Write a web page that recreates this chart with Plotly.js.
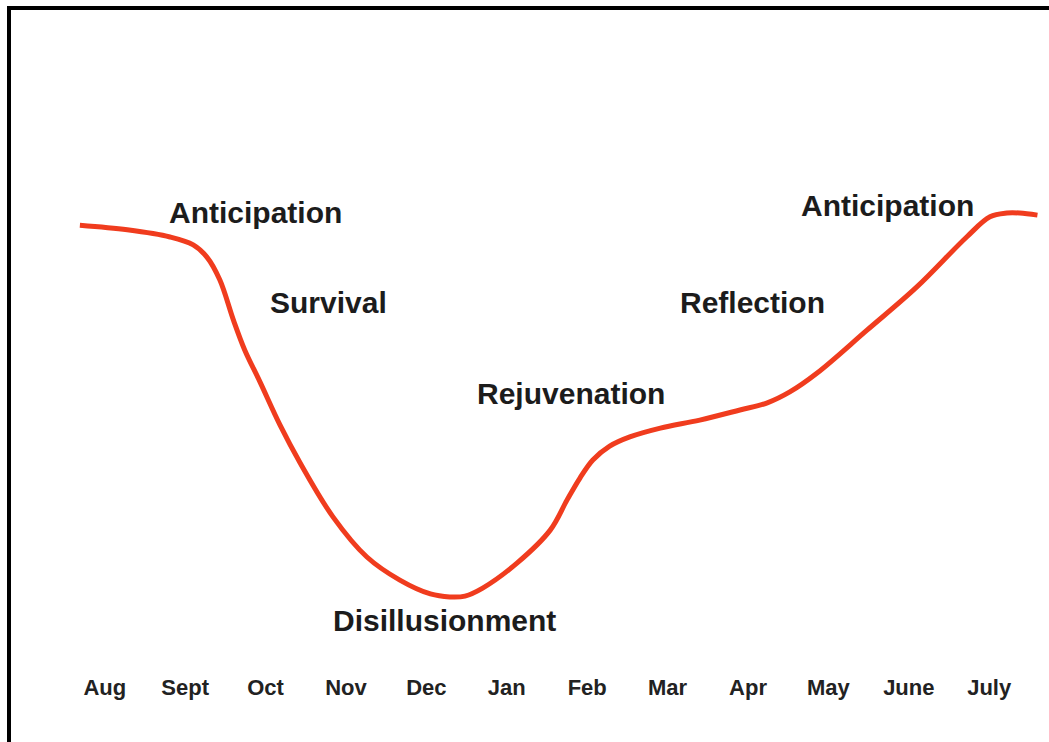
<!DOCTYPE html>
<html>
<head>
<meta charset="utf-8">
<script src="https://cdn.plot.ly/plotly-3.0.1.min.js"></script>
<style>
  html, body { margin: 0; padding: 0; background: #ffffff; }
  #chart { width: 1049px; height: 742px; }
</style>
</head>
<body>
<div id="chart"></div>
<script>
// Month tick labels (x axis, one per month index 0..11)
const months = ["Aug", "Sept", "Oct", "Nov", "Dec", "Jan", "Feb", "Mar", "Apr", "May", "June", "July"];
const monthIndex = [0, 1, 2, 3, 4, 5, 6, 7, 8, 9, 10, 11];

// Morale curve: time in months from Aug, morale level (arbitrary units)
const curveMonth = [-0.31, 0.28, 0.81, 1.10, 1.27, 1.43, 1.60, 1.74, 1.93, 2.18, 2.43, 2.84, 3.26, 3.67, 4.05, 4.29, 4.48, 4.70, 5.13, 5.54, 5.75, 5.91, 6.07, 6.28, 6.53, 6.91, 7.40, 7.90, 8.24, 8.52, 8.86, 9.48, 10.10, 10.72, 11.01, 11.22, 11.38, 11.60];
const curveMorale = [94.0, 92.9, 91.2, 89.3, 86.4, 81.0, 71.4, 64.3, 56.7, 46.4, 37.4, 24.5, 15.0, 9.5, 6.2, 5.5, 5.7, 7.6, 13.6, 21.4, 28.6, 33.8, 38.1, 41.4, 43.6, 45.7, 47.6, 50.0, 51.7, 54.3, 58.8, 69.0, 79.3, 91.2, 96.0, 96.9, 96.9, 96.4];

// Phase labels
const phaseNames = ["Anticipation", "Survival", "Disillusionment", "Rejuvenation", "Reflection", "Anticipation"];
const phaseMonth = [1.87, 2.78, 4.23, 5.80, 8.05, 9.73];
const phaseMorale = [97.1, 75.7, -0.2, 54.0, 75.7, 98.8];

const trace = {
  x: curveMonth,
  y: curveMorale,
  type: "scatter",
  mode: "lines",
  line: { color: "#f03c1e", width: 5, shape: "spline", smoothing: 1 },
  hoverinfo: "skip",
  showlegend: false
};

const annotations = phaseNames.map((t, i) => ({
  x: phaseMonth[i],
  y: phaseMorale[i],
  xref: "x",
  yref: "y",
  text: t,
  showarrow: false,
  xanchor: "center",
  yanchor: "middle",
  font: { family: "Liberation Sans, Arial, sans-serif", size: 30, color: "#1c1c1c", weight: "bold" }
}));

const layout = {
  width: 1049,
  height: 742,
  margin: { l: 0, r: 0, t: 0, b: 70, pad: 0 },
  paper_bgcolor: "#ffffff",
  plot_bgcolor: "#ffffff",
  showlegend: false,
  xaxis: {
    range: [-1.3035, 11.7438],
    tickmode: "array",
    tickvals: monthIndex,
    ticktext: months,
    showgrid: false,
    zeroline: false,
    showline: false,
    ticks: "",
    tickfont: { family: "Liberation Sans, Arial, sans-serif", size: 22, color: "#222222", weight: "bold" },
    fixedrange: true
  },
  yaxis: {
    range: [-12.38, 147.62],
    visible: false,
    showgrid: false,
    zeroline: false,
    fixedrange: true
  },
  annotations: annotations,
  shapes: [
    { type: "line", xref: "paper", yref: "paper", x0: 9 / 1049, x1: 9 / 1049, y0: -0.11, y1: 0.9911, line: { color: "#000000", width: 4 } },
    { type: "line", xref: "paper", yref: "paper", x0: 7 / 1049, x1: 1.0, y0: 0.9881, y1: 0.9881, line: { color: "#000000", width: 4 } }
  ]
};

Plotly.newPlot("chart", [trace], layout, { displayModeBar: false, staticPlot: true });
</script>
</body>
</html>
